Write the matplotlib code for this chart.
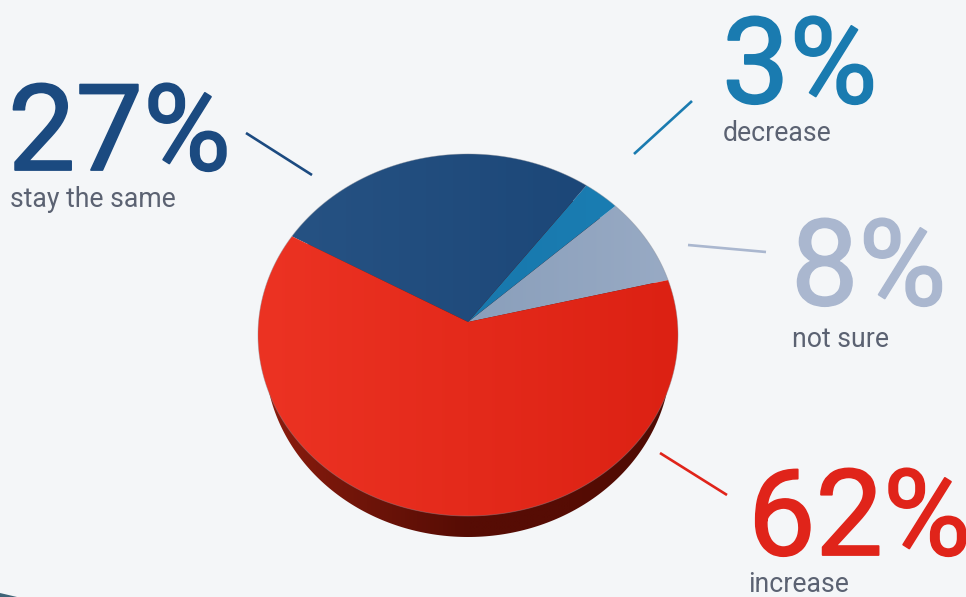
import numpy as np
import matplotlib
matplotlib.use("Agg")
import matplotlib.pyplot as plt
import matplotlib.patheffects as pe
from matplotlib.colors import LinearSegmentedColormap
from matplotlib.patches import Polygon

# slices, counter-clockwise from the right-hand edge of "not sure"
labels = ["not sure", "decrease", "stay the same", "increase"]
values = [8, 3, 27, 62]
colors_left = ["#8a9fbb", "#1878ad", "#265283", "#ec3323"]
colors_right = ["#98aac4", "#1a7db2", "#1c4778", "#dc2113"]
text_colors = ["#aab7cf", "#1a7bb0", "#1b4a80", "#e0241a"]

BG = "#f4f6f8"
START_ANGLE = 13.7
CX, CY = 468, 322
RX, RY, TILT = 209.5, 180.1, 0.0718

plt.rcParams["font.family"] = ["Roboto", "DejaVu Sans"]

fig = plt.figure(figsize=(9.66, 5.97), dpi=100, facecolor=BG)
ax = fig.add_axes([0, 0, 1, 1])
ax.set_xlim(0, 966)
ax.set_ylim(597, 0)
ax.axis("off")


def project(theta, radius=1.0):
    # unit disc seen at a slight tilt, so the apex sits above the ellipse centre
    x = radius * np.cos(theta)
    y = radius * np.sin(theta)
    w = 1 + TILT * y
    return CX + RX * x / w, CY - RY * y / w


def gradient_fill(xs, ys, left, right, zorder, stops=None):
    poly = Polygon(np.column_stack([xs, ys]), closed=True, fc="none", ec="none",
                   transform=ax.transData)
    ax.add_patch(poly)
    cols = stops if stops else [left, right]
    cmap = LinearSegmentedColormap.from_list("shade", cols)
    extent = (xs.min(), xs.max(), ys.max(), ys.min())
    img = ax.imshow(np.linspace(0, 1, 256).reshape(1, -1), cmap=cmap, extent=extent,
                    aspect="auto", zorder=zorder, interpolation="bilinear")
    img.set_clip_path(poly)


# side wall of the disc
t = np.linspace(0, 2 * np.pi, 361)
ell_y = 335 + 181 * np.sin(t) + 21
ell_x = CX + 203 * np.cos(t)
gradient_fill(ell_x, ell_y, None, None, 1,
              stops=["#8c1c0e", "#6e1409", "#560c04", "#560c04", "#4e0b03"])

# top face slices
edges = np.radians(START_ANGLE + np.concatenate([[0], np.cumsum(values)]) * 3.6)
for i in range(len(values)):
    th = np.linspace(edges[i], edges[i + 1], 200)
    px, py = project(th)
    xs = np.concatenate([[CX], px])
    ys = np.concatenate([[CY], py])
    gradient_fill(xs, ys, colors_left[i], colors_right[i], 2)

# faint rim on the top face
rx, ry = project(np.linspace(0, 2 * np.pi, 361))
ax.plot(rx, ry, color="#8a8f99", lw=0.6, alpha=0.45, zorder=3)

# leader lines
leaders = [
    ((688, 766), (245, 252)),
    ((692, 634), (101, 154)),
    ((246, 312), (133, 175)),
    ((660, 727), (453, 495)),
]
for (lx, ly), col in zip(leaders, text_colors):
    ax.plot(lx, ly, color=col, lw=1.9, solid_capstyle="butt", zorder=4)

# big percentages and captions
big_pos = [(791, 305), (722, 103), (8, 170), (748, 555)]
small_pos = [(792, 347), (723, 141), (10, 207), (748, 592)]
for i in range(len(values)):
    big = ax.text(*big_pos[i], f"{values[i]}%", color=text_colors[i], fontsize=86.5,
                  ha="left", va="baseline", zorder=5)
    # heavier strokes on the big figures
    big.set_path_effects([pe.withStroke(linewidth=1.3, foreground=text_colors[i])])
    ax.text(*small_pos[i], labels[i], color="#5b6272", fontsize=19.2,
            ha="left", va="baseline", zorder=5)

# sliver of dark band in the bottom corner
ax.fill([0, 17, 0], [593, 597, 597], color="#3f6478", lw=0, zorder=5)

ax.set_xlim(0, 966)
ax.set_ylim(597, 0)
fig.savefig("out.png", dpi=100, facecolor=BG)
plt.close(fig)
